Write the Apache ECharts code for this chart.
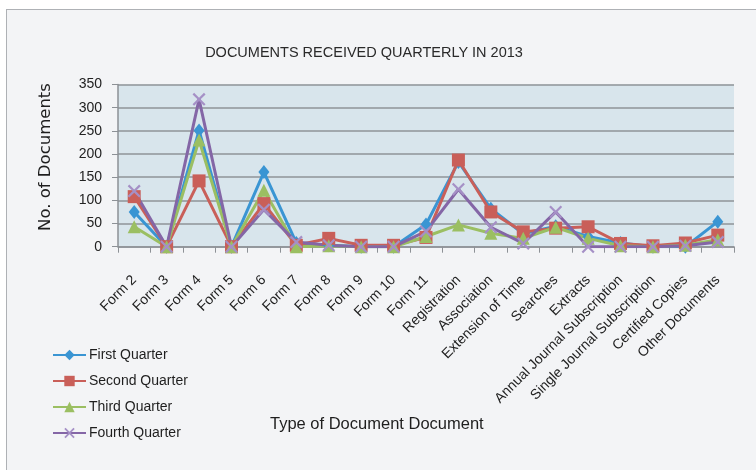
<!DOCTYPE html>
<html>
<head>
<meta charset="utf-8">
<script src="https://cdn.jsdelivr.net/npm/echarts@6/dist/echarts.min.js"></script>
<style>
  html, body { margin: 0; padding: 0; background: #ffffff; }
  #frame { position: absolute; left: 6px; top: 9px; width: 800px; height: 500px; background: #f3f4f6; border: 1px solid #aeb1b5; }
  #chart { position: absolute; left: 0; top: 0; width: 756px; height: 470px; }
</style>
</head>
<body>
<div id="frame"></div>
<div id="chart"></div>
<script>
const categories = ["Form 2", "Form 3", "Form 4", "Form 5", "Form 6", "Form 7", "Form 8", "Form 9", "Form 10", "Form 11",
  "Registration", "Association", "Extension of Time", "Searches", "Extracts",
  "Annual Journal Subscription", "Single Journal Subscription", "Certified Copies", "Other Documents"];
const firstQuarter  = [75, 0, 251, 0, 161, 8, 3, 0, 0, 48, 183, 82, 28, 44, 22, 8, 0, 0, 54];
const secondQuarter = [108, 0, 142, 0, 93, 3, 18, 3, 3, 20, 187, 75, 32, 40, 43, 7, 2, 8, 25];
const thirdQuarter  = [43, 0, 230, 0, 122, 0, 2, 0, 0, 22, 47, 29, 18, 42, 18, 2, 0, 3, 15];
const fourthQuarter = [120, 0, 318, 0, 80, 10, 3, 0, 0, 33, 124, 42, 7, 75, 0, 0, 0, 2, 10];
const seriesNames = ["First Quarter", "Second Quarter", "Third Quarter", "Fourth Quarter"];
const yTicks = { min: 0, max: 350, interval: 50 };

const FONT = "'Liberation Sans', Arial, sans-serif";
const xMark = 'path://M0,1.2 L1.2,0 L5,3.8 L8.8,0 L10,1.2 L6.2,5 L10,8.8 L8.8,10 L5,6.2 L1.2,10 L0,8.8 L3.8,5 Z';

const chart = echarts.init(document.getElementById('chart'), null, { renderer: 'canvas' });
function mk(name, data, color, symbol, size, symColor) {
  return {
    name: name, type: 'line', data: data,
    symbol: symbol, symbolSize: size,
    lineStyle: { color: color, width: 3 },
    itemStyle: { color: symColor || color },
    emphasis: { disabled: true },
    animation: false
  };
}
chart.setOption({
  backgroundColor: 'transparent',
  animation: false,
  title: {
    text: 'DOCUMENTS RECEIVED QUARTERLY IN 2013',
    left: 359, top: 40, textAlign: 'center',
    textStyle: { fontFamily: FONT, fontSize: 14.5, fontWeight: 'normal', color: '#2a2a2a' }
  },
  legend: {
    orient: 'vertical', left: 52, top: 348, padding: 0,
    itemWidth: 33, itemHeight: 13, itemGap: 12,
    data: seriesNames,
    textStyle: { fontFamily: FONT, fontSize: 14, color: '#1e1e1e', padding: [0, 0, 0, -2] }
  },
  grid: {
    left: 118, right: 22, top: 84.5, bottom: 223.3,
    show: true, backgroundColor: '#d8e5ec', borderWidth: 0
  },
  xAxis: {
    type: 'category', data: categories, boundaryGap: true,
    axisLine: { show: true, lineStyle: { color: '#8d9196', width: 1.5 } },
    axisTick: { show: true, length: 6, lineStyle: { color: '#8d9196' } },
    axisLabel: { rotate: 45, margin: 31, interval: 0, fontFamily: FONT, fontSize: 14, color: '#222' },
    splitLine: { show: false }
  },
  yAxis: {
    type: 'value', min: yTicks.min, max: yTicks.max, interval: yTicks.interval,
    axisLine: { show: true, lineStyle: { color: '#8d9196', width: 1.5 } },
    axisTick: { show: true, length: 6, lineStyle: { color: '#8d9196' } },
    axisLabel: { margin: 16, fontFamily: FONT, fontSize: 14, color: '#222' },
    splitLine: { show: true, lineStyle: { color: '#8f9398', width: 1.5 } }
  },
  graphic: [{
    type: 'text', left: 270, top: 416,
    style: { text: 'Type of Document Document', fontFamily: FONT, fontSize: 16.5, fill: '#1e1e1e' }
  }, {
    type: 'text', x: 46, y: 157, rotation: Math.PI / 2,
    style: { text: 'No. of Documents', fontFamily: "'DejaVu Sans', sans-serif", fontSize: 16.5,
             fill: '#1e1e1e', align: 'center', verticalAlign: 'middle' }
  }],
  series: [
    mk(seriesNames[0], firstQuarter, '#3a95d3', 'diamond', [11, 14]),
    mk(seriesNames[1], secondQuarter, '#c95f59', 'rect', 13),
    mk(seriesNames[2], thirdQuarter, '#9bbf62', 'triangle', 13),
    mk(seriesNames[3], fourthQuarter, '#8466a6', xMark, 13, '#a590c6')
  ]
});
</script>
</body>
</html>
